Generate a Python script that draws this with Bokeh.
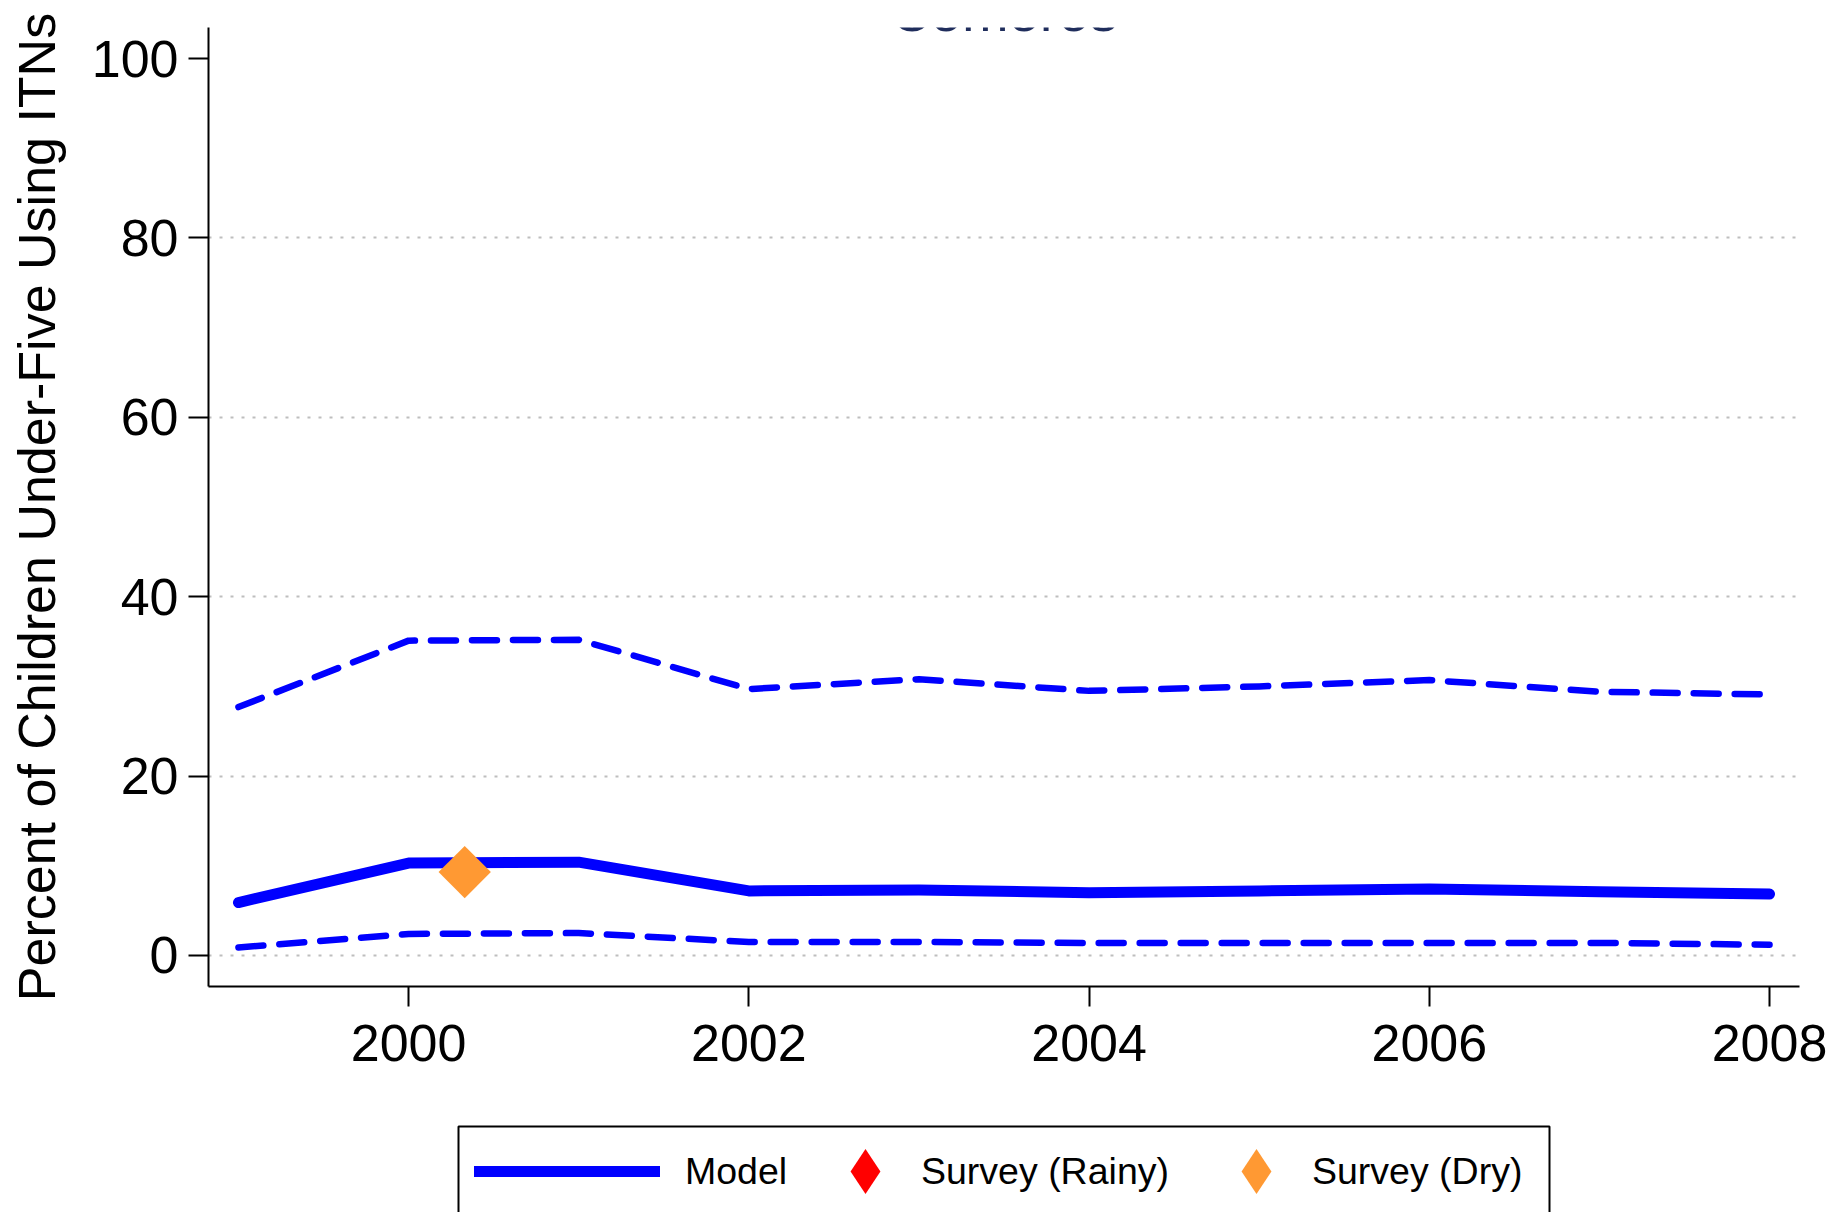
import numpy as np
from bokeh.plotting import figure
from bokeh.layouts import column
from bokeh.models import Range1d, FixedTicker, Legend, LegendItem, Label, BoxAnnotation
from bokeh.embed import file_html
from bokeh.resources import INLINE

# ---------------- data ----------------
years = [1999, 2000, 2001, 2002, 2003, 2004, 2005, 2006, 2007, 2008]
model = [5.9, 10.3, 10.4, 7.2, 7.3, 7.0, 7.2, 7.4, 7.1, 6.85]
upper = [27.7, 35.1, 35.2, 29.7, 30.8, 29.5, 30.0, 30.7, 29.4, 29.1]
lower = [0.9, 2.4, 2.5, 1.5, 1.5, 1.4, 1.4, 1.4, 1.4, 1.2]
dry_year = [2000.33]
dry_value = [9.3]
rainy_year = []
rainy_value = []
x_ticks = [2000, 2002, 2004, 2006, 2008]
y_ticks = [0, 20, 40, 60, 80, 100]
grid_ticks = [0, 20, 40, 60, 80]
title_text = "Comoros"
y_label = "Percent of Children Under-Five Using ITNs"
legend_labels = ["Model", "Survey (Rainy)", "Survey (Dry)"]

FONT = "Liberation Sans"
BLUE = "#0000FF"
RED = "#FF0000"
ORANGE = "#FF9933"
MODEL_STYLE = dict(line_width=11, line_color=BLUE, line_cap="round", line_join="round")
BAND_STYLE = dict(line_width=6.5, line_color=BLUE, line_dash="25 16",
                  line_cap="round", line_join="round")
DIAMOND = dict(marker="square", size=37, angle=np.pi / 4, line_color=None)
KEY_DIAMOND = dict(marker="diamond", line_color=None)

# ---------------- main chart ----------------
p = figure(width=1833, height=1100, output_backend="svg", toolbar_location=None,
           x_range=Range1d(1998.824, 2008.176), y_range=Range1d(-3.46, 103.46),
           min_border_left=208, min_border_right=34, min_border_top=27,
           min_border_bottom=114)
p.outline_line_color = None
p.background_fill_color = "white"
p.border_fill_color = "white"

for ax in (p.xaxis, p.yaxis):
    ax.axis_line_width = 2
    ax.axis_line_color = "black"
    ax.major_tick_line_width = 2
    ax.major_tick_line_color = "black"
    ax.major_tick_in = 0
    ax.major_tick_out = 20
    ax.minor_tick_line_color = None
    ax.major_label_text_font = FONT
    ax.major_label_text_font_size = "52px"
    ax.major_label_text_color = "black"
p.yaxis.major_label_standoff = 10
p.xaxis.major_label_standoff = 18
p.xaxis.ticker = FixedTicker(ticks=x_ticks)
p.yaxis.ticker = FixedTicker(ticks=y_ticks)
p.yaxis.axis_label = y_label
p.yaxis.axis_label_text_font = FONT
p.yaxis.axis_label_text_font_size = "52px"
p.yaxis.axis_label_text_font_style = "normal"
p.yaxis.axis_label_text_color = "black"
p.yaxis.axis_label_standoff = 23

p.xgrid.visible = False
p.ygrid.ticker = FixedTicker(ticks=grid_ticks)
p.ygrid.grid_line_color = "#BEBEBE"
p.ygrid.grid_line_width = 2
p.ygrid.grid_line_dash = "3 8"

p.line(years, upper, **BAND_STYLE)
p.line(years, lower, **BAND_STYLE)
p.line(years, model, **MODEL_STYLE)
p.scatter(rainy_year, rainy_value, fill_color=RED, **DIAMOND)
p.scatter(dry_year, dry_value, fill_color=ORANGE, **DIAMOND)

# title (partly cut at the top edge, as in the reference)
p.add_layout(Label(x=2003.5, y=105.24, text=title_text, text_align="center",
                   text_baseline="alphabetic", text_font=FONT, text_font_size="56px",
                   text_color="#1F2D5C"))

# ---------------- legend strip (same side borders as the chart) ----------------
# ranges in pixels: the keys' renderers hold the series but lie outside the view
q = figure(width=1833, height=112, output_backend="svg", toolbar_location=None,
           x_range=Range1d(0, 1591), y_range=Range1d(300, 402),
           x_axis_type=None, y_axis_type=None,
           min_border_left=208, min_border_right=34, min_border_top=10,
           min_border_bottom=0)
q.outline_line_color = None
q.background_fill_color = "white"
q.border_fill_color = "white"

k_model = q.line(years, model, **MODEL_STYLE)
k_rainy = q.scatter(rainy_year + dry_year, rainy_value + dry_value,
                    fill_color=RED, **KEY_DIAMOND)
k_dry = q.scatter(dry_year, dry_value, fill_color=ORANGE, **KEY_DIAMOND)

q.add_layout(BoxAnnotation(left=250, right=1341, top=386, bottom=270,
                           fill_alpha=0, line_color="black", line_width=2,
                           line_alpha=1))

common = dict(orientation="horizontal", glyph_height=120, label_height=120,
              padding=0, margin=0, border_line_color=None, background_fill_alpha=0,
              label_text_font=FONT, label_text_font_size="37.5px",
              label_text_color="black")
leg_a = Legend(items=[LegendItem(label=legend_labels[0], renderers=[k_model])],
               location=(266, -19), glyph_width=186, label_standoff=25, **common)
leg_b = Legend(items=[LegendItem(label=legend_labels[1], renderers=[k_rainy]),
                      LegendItem(label=legend_labels[2], renderers=[k_dry])],
               location=(601, -19), glyph_width=112, label_standoff=0, spacing=31,
               **common)
q.add_layout(leg_a, "center")
q.add_layout(leg_b, "center")

open("out.html", "w").write(file_html(column(p, q, spacing=0), INLINE))
